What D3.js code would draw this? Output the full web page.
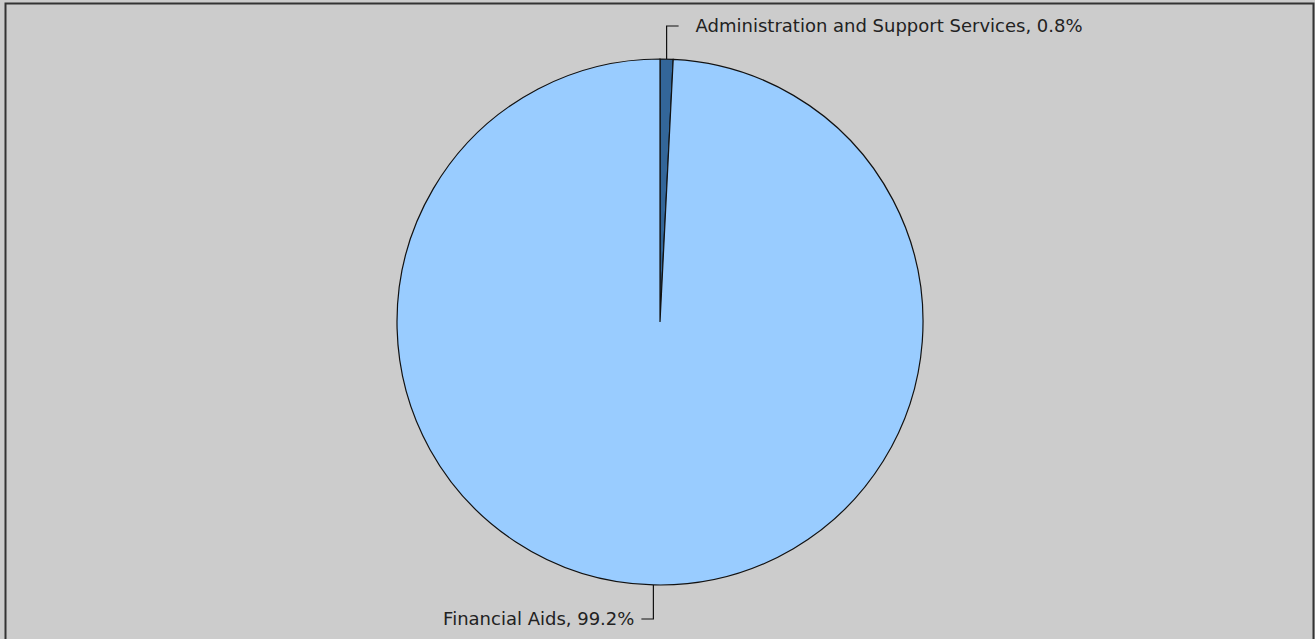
<!DOCTYPE html>
<html>
<head>
<meta charset="utf-8">
<script src="https://cdn.jsdelivr.net/npm/d3@7"></script>
<style>
  body { margin: 0; background: #fff; }
  svg { display: block; }
</style>
</head>
<body>
<svg width="1315" height="639"></svg>
<script>
// slice data
var categories = ["Administration and Support Services", "Financial Aids"];
var shares = [0.8, 99.2];
var colors = ["#336699", "#99ccff"];

var svg = d3.select("svg"),
    width = +svg.attr("width"),
    height = +svg.attr("height");

// background + frame
svg.append("rect")
    .attr("x", 0).attr("y", 0)
    .attr("width", width).attr("height", height)
    .attr("fill", "#cccccc");
svg.append("path")
    .attr("d", "M5.5," + height + "V3.5H1313.5V" + height)
    .attr("fill", "none")
    .attr("stroke", "#333")
    .attr("stroke-width", 2);

var cx = 660, cy = 322, r = 263;

var data = categories.map(function(c, i) {
    return { name: c, value: shares[i], color: colors[i] };
});

var pie = d3.pie().sort(null).value(function(d) { return d.value; });
var arc = d3.arc().innerRadius(0).outerRadius(r);

var g = svg.append("g")
    .attr("transform", "translate(" + cx + "," + cy + ")");

var arcs = pie(data);

g.selectAll("path.slice")
    .data(arcs)
    .enter().append("path")
    .attr("class", "slice")
    .attr("d", arc)
    .attr("fill", function(d) { return d.data.color; })
    .attr("stroke", "#111")
    .attr("stroke-width", 1.2);

// leader lines and labels
arcs.forEach(function(d) {
    var mid = (d.startAngle + d.endAngle) / 2;
    var x0 = r * Math.sin(mid), y0 = -r * Math.cos(mid);
    var up = y0 < 0;
    var y1 = up ? -296 : 297;
    var dir = Math.sin(mid) >= 0 ? 1 : -1;
    var x2 = x0 + dir * 12;
    g.append("path")
        .attr("d", "M" + x0 + "," + y0 + "V" + y1 + "H" + x2)
        .attr("fill", "none")
        .attr("stroke", "#111")
        .attr("stroke-width", 1.2);
    g.append("text")
        .attr("x", x2 + dir * (dir > 0 ? 17 : 7))
        .attr("y", y1)
        .attr("dy", "0.35em")
        .attr("text-anchor", dir > 0 ? "start" : "end")
        .style("font", "18px 'DejaVu Sans'")
        .attr("fill", "#222")
        .text(d.data.name + ", " + d.data.value.toFixed(1) + "%");
});
</script>
</body>
</html>
